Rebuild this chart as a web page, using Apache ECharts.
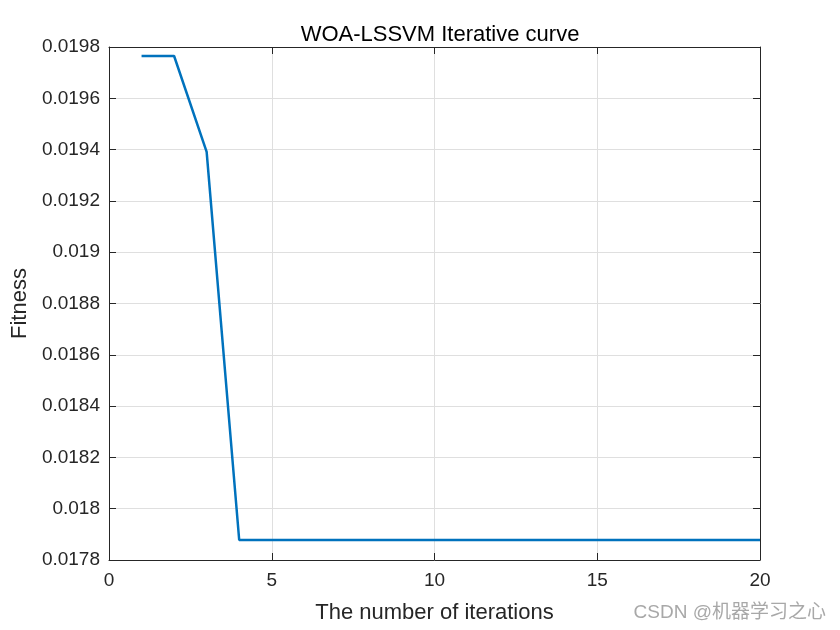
<!DOCTYPE html>
<html>
<head>
<meta charset="utf-8">
<script src="https://cdn.jsdelivr.net/npm/echarts@6/dist/echarts.min.js"></script>
<style>html,body{margin:0;padding:0;background:#fff}#c{width:840px;height:630px}</style>
</head>
<body>
<div id="c"></div>
<script>
const iterations = [1,2,3,4,5,6,7,8,9,10,11,12,13,14,15,16,17,18,19,20];
const fitness = [0.019765,0.019765,0.019391,0.017878,0.017878,0.017878,0.017878,0.017878,0.017878,0.017878,0.017878,0.017878,0.017878,0.017878,0.017878,0.017878,0.017878,0.017878,0.017878,0.017878];
const titleText = 'WOA-LSSVM Iterative curve';
const xName = 'The number of iterations';
const yName = 'Fitness';
const watermark = 'CSDN @机器学习之心';

const chart = echarts.init(document.getElementById('c'));
const font = 'Arial, "Liberation Sans", sans-serif';
const axisCommon = {
  axisLine: {show: true, onZero: false, lineStyle: {color: '#262626', width: 1}},
  axisTick: {show: true, inside: true, length: 7, lineStyle: {color: '#262626'}},
};
chart.setOption({
  animation: false,
  backgroundColor: '#fff',
  title: {text: titleText, left: 435, top: 19, textAlign: 'center',
    textStyle: {fontFamily: font, fontSize: 22, fontWeight: 'normal', color: '#000'}},
  graphic: [{type: 'text', right: 14, bottom: 8,
    style: {text: watermark, fontFamily: '"Liberation Sans", "Noto Sans CJK SC", sans-serif', fontSize: 19, fill: '#a8a8a8'}}],
  grid: {left: 109, top: 47, width: 651, height: 513, containLabel: false, outerBoundsMode: 'none'},
  xAxis: [
    Object.assign({type: 'value', min: 0, max: 20, interval: 5, position: 'bottom',
      name: xName, nameLocation: 'middle', nameGap: 42,
      nameTextStyle: {fontFamily: font, fontSize: 22, color: '#262626'},
      axisLabel: {fontFamily: font, fontSize: 19, color: '#262626', margin: 11},
      splitLine: {show: true, lineStyle: {color: '#dfdfdf'}}}, axisCommon),
    Object.assign({type: 'value', min: 0, max: 20, interval: 5, position: 'top',
      axisLabel: {show: false}, splitLine: {show: false}}, axisCommon)
  ],
  yAxis: [
    Object.assign({type: 'value', min: 0.0178, max: 0.0198, interval: 0.0002, position: 'left',
      name: yName, nameLocation: 'middle', nameGap: 78, nameRotate: 90,
      nameTextStyle: {fontFamily: font, fontSize: 22, color: '#262626'},
      axisLabel: {fontFamily: font, fontSize: 19, color: '#262626', margin: 9,
        formatter: v => String(parseFloat(v.toFixed(5)))},
      splitLine: {show: true, lineStyle: {color: '#dfdfdf'}}}, axisCommon),
    Object.assign({type: 'value', min: 0.0178, max: 0.0198, interval: 0.0002, position: 'right',
      axisLabel: {show: false}, splitLine: {show: false}}, axisCommon)
  ],
  series: [{
    type: 'line', xAxisIndex: 0, yAxisIndex: 0,
    data: iterations.map((x, i) => [x, fitness[i]]),
    showSymbol: false, symbol: 'none',
    lineStyle: {color: '#0072BD', width: 2.5}
  }]
});
</script>
</body>
</html>
